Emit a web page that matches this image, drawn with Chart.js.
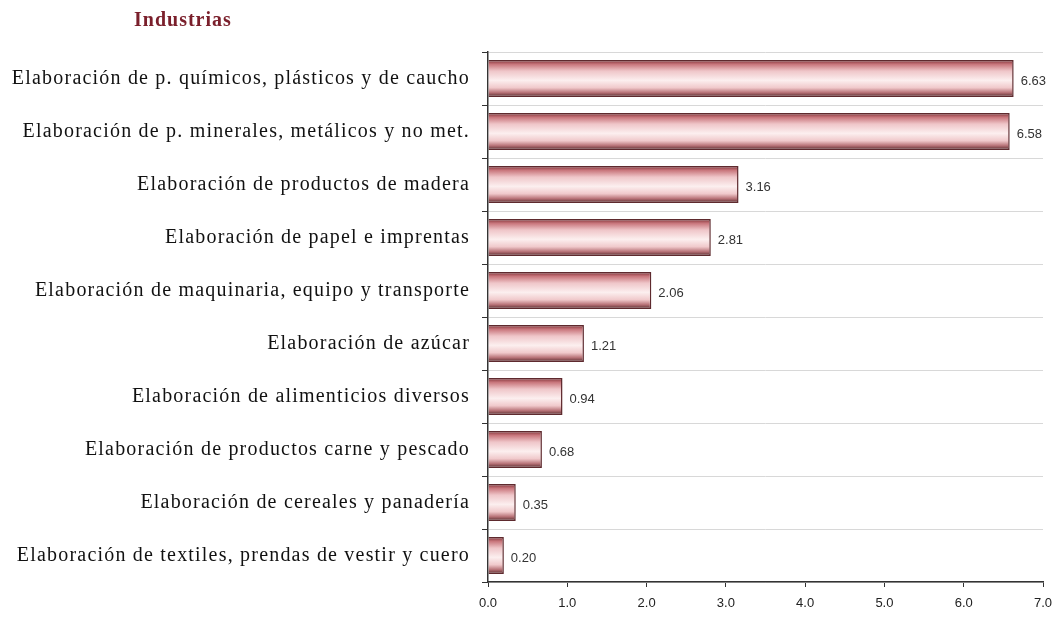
<!DOCTYPE html>
<html>
<head>
<meta charset="utf-8">
<script src="https://cdn.jsdelivr.net/npm/chart.js@4.4.1/dist/chart.umd.min.js"></script>
<style>
  html, body { margin: 0; padding: 0; background: #fff; }
  #wrap { position: relative; width: 1062px; height: 619px; }
  #title {
    position: absolute; left: 134px; top: 8px;
    font-family: "Liberation Serif", serif; font-weight: bold; font-size: 20px;
    letter-spacing: 1px; color: #7a1f2b;
  }
</style>
</head>
<body>
<div id="wrap">
  <div id="title">Industrias</div>
  <canvas id="chart"></canvas>
</div>
<script>
const categories = [
  'Elaboración de p. químicos, plásticos y de caucho',
  'Elaboración de p. minerales, metálicos y no met.',
  'Elaboración de productos de madera',
  'Elaboración de papel e imprentas',
  'Elaboración de maquinaria, equipo y transporte',
  'Elaboración de azúcar',
  'Elaboración de alimenticios diversos',
  'Elaboración de productos carne y pescado',
  'Elaboración de cereales y panadería',
  'Elaboración de textiles, prendas de vestir y cuero'
];
const values = [6.63, 6.58, 3.16, 2.81, 2.06, 1.21, 0.94, 0.68, 0.35, 0.20];
const xMin = 0;
const xMax = 7;
const xStep = 1;

// gradiente vertical para cada barra (borde oscuro, centro claro)
function barGradient(ctx) {
  const chart = ctx.chart;
  const y = chart.scales.y;
  if (!y || !y.height) return '#e8b3b7';
  const c = y.getPixelForValue(ctx.dataIndex);
  const h = (y.height / categories.length) * 0.7 / 2;
  const g = chart.ctx.createLinearGradient(0, c - h, 0, c + h);
  g.addColorStop(0, '#7d2e33');
  g.addColorStop(0.12, '#c9777d');
  g.addColorStop(0.3, '#efc6c9');
  g.addColorStop(0.55, '#fcefef');
  g.addColorStop(0.75, '#f0c9cb');
  g.addColorStop(0.88, '#b87378');
  g.addColorStop(1, '#4e2426');
  return g;
}

// etiquetas de valor al final de cada barra
const valueLabels = {
  id: 'valueLabels',
  afterDatasetsDraw(chart) {
    const ctx = chart.ctx;
    const meta = chart.getDatasetMeta(0);
    ctx.save();
    ctx.font = '13px "Liberation Sans", Arial, sans-serif';
    ctx.fillStyle = '#333';
    ctx.textAlign = 'left';
    ctx.textBaseline = 'middle';
    meta.data.forEach((bar, i) => {
      ctx.fillText(values[i].toFixed(2), bar.x + 7, bar.y + 3);
    });
    ctx.restore();
  }
};

// espaciado de letras solo para las etiquetas de categoria (eje y)
const spacing = {
  id: 'spacing',
  beforeDraw(chart) { chart.ctx.letterSpacing = '1.2px'; },
  beforeDatasetsDraw(chart) { chart.ctx.letterSpacing = '0px'; }
};

new Chart(document.getElementById('chart'), {
  type: 'bar',
  data: {
    labels: categories,
    datasets: [{
      data: values,
      backgroundColor: barGradient,
      borderColor: '#5e2a2e',
      borderWidth: 1.5,
      categoryPercentage: 0.7,
      barPercentage: 1.0
    }]
  },
  options: {
    indexAxis: 'y',
    responsive: true,
    maintainAspectRatio: false,
    animation: false,
    layout: { padding: { top: 52, right: 19, left: 0, bottom: 0 } },
    plugins: {
      legend: { display: false },
      tooltip: { enabled: false }
    },
    scales: {
      x: {
        min: xMin,
        max: xMax,
        afterFit(scale) { scale.height = 37; },
        ticks: {
          z: 1, // se dibuja despues de las barras, sin espaciado
          stepSize: xStep,
          padding: 9,
          color: '#222',
          font: { family: '"Liberation Sans", Arial, sans-serif', size: 13 },
          callback: v => Number(v).toFixed(1)
        },
        grid: { drawOnChartArea: false, drawTicks: true, tickLength: 5, tickColor: '#333' },
        border: { color: '#333', width: 1.5 }
      },
      y: {
        afterFit(scale) { scale.width = 488; },
        ticks: {
          padding: 12,
          color: '#111',
          font: { family: '"Liberation Serif", "Times New Roman", serif', size: 20 }
        },
        grid: { offset: true, color: '#d8d8d8', lineWidth: 1, tickLength: 6, tickColor: '#333' },
        border: { color: '#333', width: 1.5 }
      }
    }
  },
  plugins: [valueLabels, spacing]
});
</script>
</body>
</html>
